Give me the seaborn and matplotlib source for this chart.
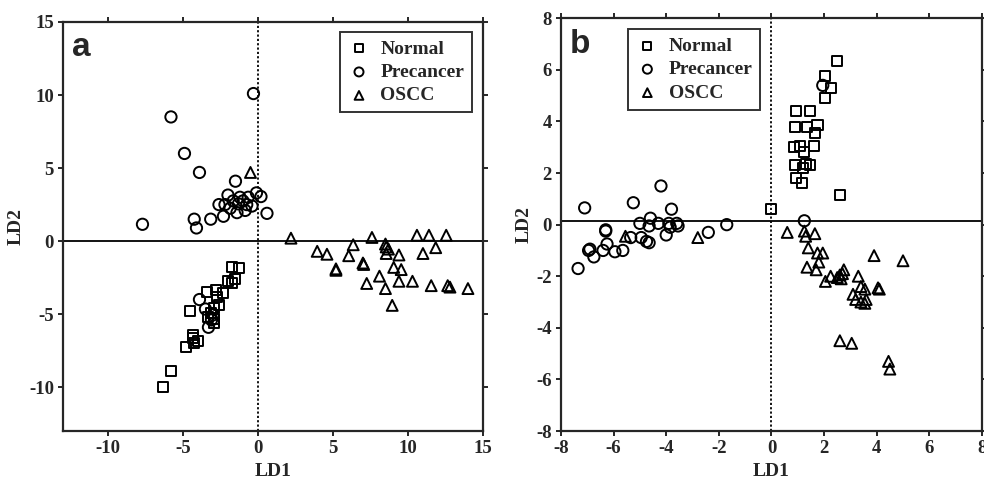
"""LDA score plots for Normal / Precancer / OSCC groups (panels a and b)."""

import matplotlib

matplotlib.use("Agg")
import matplotlib.pyplot as plt
import pandas as pd
import seaborn as sns


GROUPS = ["Normal", "Precancer", "OSCC"]
MARKERS = {"Normal": "s", "Precancer": "o", "OSCC": "^"}
SIZES = {"Normal": 52, "Precancer": 66, "OSCC": 62}

# panel a
A_NORMAL_LD1 = [-6.3, -5.8, -4.8, -4.5, -4.35, -4.3, -4.0, -4.25, -3.4, -2.8, -2.6, -2.9,
                -2.95, -3.1, -2.35, -2.0, -1.75, -1.5, -1.75, -1.25, -2.7, -3.3, -2.95]
A_NORMAL_LD2 = [-10.0, -8.9, -7.25, -4.8, -6.4, -6.65, -6.85, -7.0, -3.5, -3.35, -4.4, -4.6,
                -5.6, -4.95, -3.55, -2.75, -2.9, -2.6, -1.75, -1.85, -3.8, -5.2, -5.3]
A_PRE_LD1 = [-0.3, -5.8, -4.9, -3.9, -1.5, -7.7, -4.25, -4.1, -3.15, -2.3, -2.6, 0.6, -0.1,
             0.2, -2.0, -1.65, -1.3, -1.0, -0.75, -2.2, -1.4, -0.85, -0.4, -1.85, -1.2, -0.65,
             -3.9, -3.5, -3.3, -3.1, -3.0]
A_PRE_LD2 = [10.1, 8.5, 6.0, 4.7, 4.1, 1.15, 1.5, 0.9, 1.5, 1.7, 2.5, 1.9, 3.3,
             3.05, 3.15, 2.75, 2.55, 2.75, 2.5, 2.5, 1.95, 2.1, 2.4, 2.25, 3.0, 3.0,
             -4.0, -4.65, -5.9, -5.4, -5.05]
A_OSCC_LD1 = [-0.5, 2.2, 3.95, 4.6, 5.2, 5.2, 6.05, 6.35, 7.0, 7.05, 7.25, 7.6, 8.1, 8.5,
              8.55, 8.55, 8.7, 8.5, 8.95, 9.05, 9.4, 9.4, 9.55, 10.3, 10.6, 11.0, 11.4,
              11.55, 11.85, 12.55, 12.65, 12.8, 14.0]
A_OSCC_LD2 = [4.7, 0.2, -0.7, -0.9, -1.9, -2.0, -1.0, -0.25, -1.5, -1.6, -2.9, 0.25, -2.4,
              -0.2, -0.4, -0.85, -0.55, -3.25, -4.4, -1.8, -0.95, -2.75, -1.95, -2.75, 0.4,
              -0.85, 0.4, -3.05, -0.45, 0.4, -3.05, -3.15, -3.25]

# panel b
B_NORMAL_LD1 = [2.5, 2.05, 2.25, 2.05, 0.95, 1.45, 0.9, 1.35, 1.75, 1.65, 0.85, 1.1, 1.6,
                1.25, 0.9, 1.45, 1.2, 1.3, 0.95, 1.15, 2.6, 0.0]
B_NORMAL_LD2 = [6.35, 5.75, 5.3, 4.9, 4.4, 4.4, 3.8, 3.8, 3.85, 3.55, 3.0, 3.05, 3.05,
                2.8, 2.3, 2.3, 2.2, 2.35, 1.8, 1.6, 1.15, 0.6]
B_PRE_LD1 = [1.95, -7.1, -5.25, -4.2, -3.8, 1.25, -1.7, -4.6, -5.0, -4.65, -4.3, -3.9,
             -3.6, -3.55, -6.3, -7.35, -6.9, -6.95, -6.75, -6.4, -6.25, -6.3, -5.95,
             -5.65, -5.35, -4.95, -4.75, -4.65, -4.0, -3.85, -2.4]
B_PRE_LD2 = [5.4, 0.65, 0.85, 1.5, 0.6, 0.15, 0.0, 0.25, 0.05, -0.05, 0.05, 0.05,
             0.05, -0.05, -0.2, -1.7, -0.95, -1.0, -1.25, -1.0, -0.75, -0.25, -1.05,
             -1.0, -0.5, -0.5, -0.65, -0.7, -0.4, -0.1, -0.3]
B_OSCC_LD1 = [-5.55, -2.8, 0.6, 1.25, 1.3, 1.65, 1.4, 1.35, 1.7, 1.75, 1.95, 1.8, 2.05,
              2.25, 2.5, 2.65, 2.6, 2.75, 2.7, 3.3, 3.1, 3.2, 3.4, 3.55, 3.4, 3.55, 3.6,
              3.9, 4.05, 4.1, 5.0, 2.6, 3.05, 4.45, 4.5]
B_OSCC_LD2 = [-0.45, -0.5, -0.3, -0.25, -0.45, -0.35, -0.9, -1.65, -1.75, -1.1, -1.1,
              -1.45, -2.2, -2.0, -2.05, -2.1, -1.95, -1.75, -1.9, -2.0, -2.7, -2.9, -2.4,
              -2.5, -3.0, -3.05, -2.9, -1.2, -2.45, -2.5, -1.4, -4.5, -4.6, -5.3, -5.6]


def build_frame(normal, pre, oscc):
    """Stack the three groups into one long frame."""
    parts = []
    for name, (ld1, ld2) in zip(GROUPS, [normal, pre, oscc]):
        parts.append(pd.DataFrame({"LD1": ld1, "LD2": ld2, "group": name}))
    return pd.concat(parts, ignore_index=True)


def draw_panel(ax, data, letter, xlim, ylim, ticks_x, ticks_y, legend_kw, zero_y=0.0):
    for name in GROUPS:
        sub = data[data["group"] == name]
        sns.scatterplot(
            data=sub, x="LD1", y="LD2", ax=ax,
            marker=MARKERS[name], s=SIZES[name],
            facecolor="none", edgecolor="black", linewidth=1.4,
            label=name, zorder=3,
        )
    ax.axhline(zero_y, color="black", lw=1.3, zorder=2)
    ax.axvline(0, color="black", lw=1.3, ls=(0, (1.2, 1.2)), zorder=2)
    ax.set_xlim(*xlim)
    ax.set_ylim(*ylim)
    ax.set_xticks(ticks_x)
    ax.set_yticks(ticks_y)
    ax.tick_params(direction="out", length=3.5, width=1.4, top=True, right=True,
                   labeltop=False, labelright=False, labelsize=13.5, pad=3)
    for label in ax.get_xticklabels() + ax.get_yticklabels():
        label.set_fontweight("bold")
    for spine in ax.spines.values():
        spine.set_linewidth(1.6)
        spine.set_visible(True)
    ax.set_xlabel("LD1", fontsize=14, fontweight="bold", labelpad=4)
    ax.set_ylabel("LD2", fontsize=14, fontweight="bold", labelpad=3)
    ax.text(0.022, 0.975, letter, transform=ax.transAxes, ha="left", va="top",
            fontsize=24, fontweight="bold", family="Liberation Sans")

    handles, labels = ax.get_legend_handles_labels()
    leg = ax.legend(handles, labels, frameon=True, fancybox=False, edgecolor="black",
                    prop={"family": "Liberation Serif", "weight": "bold", "size": 14},
                    handletextpad=0.5, handlelength=1.2, labelspacing=0.3,
                    borderpad=0.4, borderaxespad=0, markerscale=0.8, **legend_kw)
    leg.get_frame().set_linewidth(1.4)


def main() -> None:
    sns.set_style("ticks")
    plt.rcParams["font.family"] = ["Liberation Serif", "DejaVu Serif"]
    plt.rcParams["axes.unicode_minus"] = False

    fig = plt.figure(figsize=(9.84, 4.82), dpi=100)
    ax_a = fig.add_axes([0.064, 0.1058, 0.4268, 0.8486])
    ax_b = fig.add_axes([0.5701, 0.1058, 0.4278, 0.8562])

    data_a = build_frame((A_NORMAL_LD1, A_NORMAL_LD2), (A_PRE_LD1, A_PRE_LD2),
                         (A_OSCC_LD1, A_OSCC_LD2))
    data_b = build_frame((B_NORMAL_LD1, B_NORMAL_LD2), (B_PRE_LD1, B_PRE_LD2),
                         (B_OSCC_LD1, B_OSCC_LD2))

    draw_panel(ax_a, data_a, "a", (-13, 15), (-13, 15),
               [-10, -5, 0, 5, 10, 15], [-10, -5, 0, 5, 10, 15],
               {"loc": "upper right", "bbox_to_anchor": (0.974, 0.975)})
    draw_panel(ax_b, data_b, "b", (-8, 8), (-8, 8),
               list(range(-8, 9, 2)), list(range(-8, 9, 2)),
               {"loc": "upper left", "bbox_to_anchor": (0.159, 0.973)}, zero_y=0.15)

    fig.savefig("out.png", dpi=100)
    plt.close(fig)


if __name__ == "__main__":
    main()
